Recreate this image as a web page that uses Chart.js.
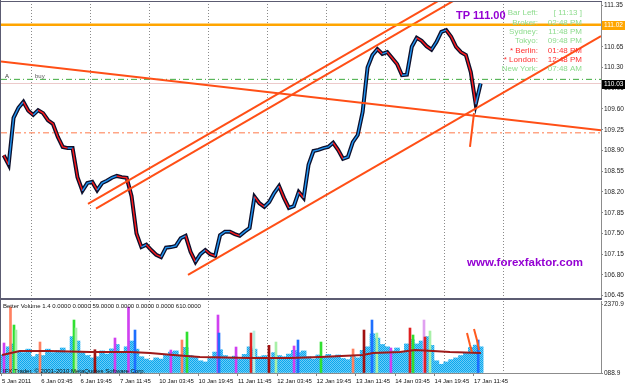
<!DOCTYPE html>
<html><head><meta charset="utf-8">
<script src="https://cdn.jsdelivr.net/npm/chart.js@4.4.1/dist/chart.umd.min.js"></script>
<style>
html,body{margin:0;padding:0;background:#fff;}
#wrap{position:relative;width:625px;height:387px;overflow:hidden;background:#fff;}
canvas{position:absolute;left:0;}
#main{top:0;}
#vol{top:300px;}
</style></head><body>
<div id="wrap"><canvas id="main" width="625" height="300"></canvas><canvas id="vol" width="625" height="87"></canvas></div>
<script>
const FONT = "'Liberation Sans', Arial, sans-serif";

// ---- time axis (trading hours since 5 Jan 2011 00:00) ----
const xMin = 11.39, xMax = 255.46;
const dayLines = [24, 48, 72, 96, 120, 144, 168, 192, 216];
const timeLabelHours = [11.75, 27.75, 43.75, 59.75, 75.75, 91.75, 107.75, 123.75, 139.75, 155.75, 171.75, 187.75, 203.75];
const timeLabels = ['5 Jan 2011', '6 Jan 03:45', '6 Jan 19:45', '7 Jan 11:45', '10 Jan 03:45', '10 Jan 19:45', '11 Jan 11:45', '12 Jan 03:45', '12 Jan 19:45', '13 Jan 11:45', '14 Jan 03:45', '14 Jan 19:45', '17 Jan 11:45'];

// ---- price panel ----
const yMin = 106.394, yMax = 111.422;
const priceTicks = [106.45, 106.80, 107.15, 107.50, 107.85, 108.20, 108.55, 108.90, 109.25, 109.60, 109.95, 110.30, 110.65, 111.00, 111.35];
const startHour = 12.5, stepHours = 2;
const closePrices = [
 108.82, 108.66, 109.45, 109.62, 109.72, 109.57, 109.50, 109.58, 109.53, 109.41,
 109.35, 109.13, 108.96, 108.94, 108.94, 108.45, 108.22, 108.35, 108.37, 108.23,
 108.35, 108.39, 108.44, 108.47, 108.45, 108.44, 108.13, 107.50, 107.27, 107.31,
 107.22, 107.14, 107.10, 107.26, 107.27, 107.29, 107.42, 107.46, 107.19, 107.02,
 107.15, 107.22, 107.15, 107.12, 107.47, 107.53, 107.53, 107.49, 107.46, 107.53,
 107.59, 108.12, 108.01, 107.95, 108.03, 108.18, 108.30, 108.10, 107.93, 107.96,
 108.20, 108.10, 108.66, 108.89, 108.91, 108.94, 108.96, 109.03, 108.91, 108.76,
 108.79, 109.04, 109.16, 109.55, 110.30, 110.51, 110.61, 110.53, 110.56, 110.46,
 110.36, 110.17, 110.18, 110.65, 110.80, 110.75, 110.66, 110.60, 110.73, 110.90,
 110.93, 110.82, 110.65, 110.56, 110.51, 110.22, 109.68, 110.03];
const priceHours = closePrices.map((_, i) => startHour + i * stepHours);

const tpLevel = 111.02, tpTarget = 111.00, buyLevel = 110.10, bidLevel = 110.03, slLevel = 109.20;
const descHours = [11.4, 255.5], descPrices = [110.40, 109.24];
const chanAHours = [46.78, 189.97], chanAPrices = [108.00, 111.44];
const chanBHours = [50.03, 196.07], chanBPrices = [107.92, 111.44];
const chanCHours = [87.46, 255.46], chanCPrices = [106.80, 110.83];
const stubHours = [202.17, 203.80], stubPrices = [108.96, 109.53];

const infoLabels = ['Bar Left:', 'Broker:', 'Sydney:', 'Tokyo:', '* Berlin:', '* London:', 'New York:'];
const infoValues = ['[ 11:13 ]', '02:48 PM', '11:48 PM', '09:48 PM', '01:48 PM', '12:48 PM', '07:48 AM'];
const infoRed = [false, false, false, false, true, true, false];

// ---- volume panel ----
const volMax = 2475;
const volTickValues = [0, 2370.9];
const volTickLabels = ['088.9', '2370.9'];
const volumes = [
 620, 900, 1000, 760, 700, 820, 560, 640, 600, 820,
 700, 780, 860, 700, 1250, 1100, 700, 600, 520, 560,
 760, 650, 830, 980, 720, 900, 1100, 820, 560, 480,
 430, 520, 480, 640, 720, 760, 620, 880, 600, 540,
 420, 380, 500, 720, 800, 600, 520, 580, 480, 640,
 900, 820, 560, 600, 520, 700, 600, 560, 650, 780,
 700, 760, 560, 480, 620, 540, 640, 560, 620, 500,
 460, 600, 520, 780, 900, 1350, 1200, 980, 900, 760,
 860, 700, 1000, 1150, 1000, 1100, 1250, 950, 420, 300,
 380, 460, 520, 600, 700, 880, 960, 900];
const spikeHours = [12.61, 15.25, 16.68, 17.49, 27.25, 41.08, 41.9, 49.6, 57.76, 63.25, 65.9, 80.5, 85.0, 87.05, 99.66, 100.07, 107.0, 113.1, 114.3, 120.4, 123.25, 130.6, 132.2, 141.56, 154.6, 159.05, 162.3, 164.3, 170.0, 177.76, 179.0, 183.46, 183.87, 185.9, 205.5];
const spikeVols  = [1031, 2268, 1649, 1477, 1065, 1821, 1546, 800, 1203, 2268, 1477, 790, 1134, 1409, 1993, 1374, 893, 1374, 1443, 950, 1065, 928, 1134, 1065, 825, 1477, 1821, 1374, 859, 1546, 1306, 1821, 1237, 1443, 1134];
const spikeKinds = ['mag', 'salmon', 'green', 'lgreen', 'salmon', 'green', 'lgreen', 'dred', 'mag', 'mag', 'blue', 'mag', 'salmon', 'green', 'mag', 'blue', 'mag', 'red', 'pale', 'dred', 'lgreen', 'mag', 'blue', 'green', 'salmon', 'dred', 'blue', 'lgreen', 'mag', 'red', 'green', 'plum', 'red', 'lgreen', 'blue'];
const volMaHours = [11.8, 19.1, 31.3, 47.6, 63.9, 72.0, 81.4, 92.3, 112.7, 129.0, 141.2, 158.6, 162.7, 173.7, 179.8, 187.1, 194.0, 206.6];
const volMaVals  = [618, 756, 756, 722, 722, 687, 618, 550, 515, 515, 550, 618, 687, 722, 790, 756, 722, 687];
const markAHours = [200.95, 202.17, 202.98], markAVals = [1374, 962, 722];
const markBHours = [203.8, 205.0, 205.83], markBVals = [1512, 1134, 790];

// ---- helpers ----
const pts = (xs, ys) => xs.map((x, i) => ({x: x, y: ys[i]}));
const hline = (lvl) => [{x: xMin, y: lvl}, {x: xMax, y: lvl}];
const kindColor = {mag: '#D040F0', salmon: '#FF8060', green: '#30E030', lgreen: '#A8F0A8', red: '#E02020', blue: '#1E6FFF', dred: '#A01010', pale: '#B8F0E0', plum: '#E0A0F0'};
const ORANGE_RED = '#FF4F16';
const trend = (xs, ys) => ({data: pts(xs, ys), borderColor: ORANGE_RED, borderWidth: 2, order: 5});

const mainDecor = {
  id: 'mainDecor',
  afterDraw(chart) {
    const ctx = chart.ctx, ys = chart.scales.y;
    ctx.save();
    ctx.fillStyle = '#5c5c72';
    ctx.fillRect(0, 0, 1, 300);
    ctx.fillRect(0, 1, 602, 1);
    ctx.fillRect(0, 298, 602, 2);
    const box = (val, fill, txtColor) => {
      const y = Math.round(ys.getPixelForValue(val));
      ctx.fillStyle = fill; ctx.fillRect(602, y - 4, 23, 9);
      ctx.fillStyle = txtColor; ctx.font = '6.5px ' + FONT;
      ctx.textBaseline = 'middle'; ctx.textAlign = 'left';
      ctx.fillText(val.toFixed(2), 604, y + 0.5);
    };
    box(tpLevel, '#FFA500', '#ffffff');
    box(bidLevel, '#000000', '#ffffff');
    ctx.textBaseline = 'middle';
    ctx.textAlign = 'left';
    ctx.fillStyle = '#9400D3';
    ctx.font = 'bold 11px ' + FONT;
    ctx.fillText('TP ' + tpTarget.toFixed(2), 456, 16);
    ctx.font = 'bold 11.5px ' + FONT;
    ctx.fillText('www.forexfaktor.com', 467, 263);
    ctx.font = '8px ' + FONT;
    infoLabels.forEach((lab, i) => {
      const y = 13 + i * 9.33;
      ctx.fillStyle = infoRed[i] ? '#FF3030' : '#8EDC8E';
      ctx.textAlign = 'right';
      ctx.fillText(lab, 538, y);
      ctx.fillText(infoValues[i], 582, y);
    });
    ctx.textAlign = 'left';
    ctx.font = '6px ' + FONT;
    ctx.fillStyle = '#333';
    ctx.fillText('A', 5, 76);
    ctx.fillStyle = '#555';
    ctx.fillText('buy', 35, 76);
    ctx.restore();
  }
};

new Chart(document.getElementById('main'), {
  type: 'line',
  data: {datasets: [
    {data: hline(slLevel), borderColor: '#FFA585', borderWidth: 1.5, borderDash: [6, 3, 2, 3], order: 20},
    {data: hline(bidLevel), borderColor: '#EDCACA', borderWidth: 1, order: 19},
    {data: hline(buyLevel), borderColor: '#3DAA3D', borderWidth: 1, borderDash: [6, 3, 1, 3], order: 18},
    {data: pts(priceHours, closePrices), borderColor: '#0C0F2C', borderWidth: 4, order: 10},
    {data: pts(priceHours, closePrices), borderWidth: 1.4, order: 9,
      segment: {borderColor: c => c.p1.parsed.y >= c.p0.parsed.y ? '#2196F3' : '#FF1A1A'}},
    trend(descHours, descPrices),
    trend(chanAHours, chanAPrices),
    trend(chanBHours, chanBPrices),
    trend(chanCHours, chanCPrices),
    trend(stubHours, stubPrices),
    {data: hline(tpLevel), borderColor: '#FFA500', borderWidth: 2.5, order: 4}
  ]},
  options: {
    responsive: false, animation: false, devicePixelRatio: 1, events: [],
    layout: {padding: {left: 1, top: 1, right: 0, bottom: 1}, autoPadding: false},
    plugins: {legend: {display: false}, tooltip: {enabled: false}},
    elements: {point: {radius: 0}, line: {tension: 0, fill: false}},
    scales: {
      x: {type: 'linear', min: xMin, max: xMax, position: 'bottom', offset: false,
        afterBuildTicks: s => { s.ticks = dayLines.map(v => ({value: v})); },
        ticks: {display: false},
        grid: {color: '#8a8a8a', lineWidth: 1, drawTicks: false, offset: false},
        border: {display: false, dash: [1, 2]},
        afterFit: s => { s.height = 0; s.paddingLeft = 0; s.paddingRight = 0; }},
      y: {type: 'linear', position: 'right', min: yMin, max: yMax,
        afterBuildTicks: s => { s.ticks = priceTicks.map(v => ({value: v})); },
        ticks: {font: {family: FONT, size: 6.5}, color: '#222', padding: 1, autoSkip: false, callback: v => Number(v).toFixed(2)},
        grid: {drawOnChartArea: false, tickLength: 2, tickColor: '#888'},
        border: {display: true, color: '#8c8c8c'},
        afterFit: s => { s.width = 24; s.paddingTop = 0; s.paddingBottom = 0; }}
    }
  },
  plugins: [mainDecor]
});

// volume panel
const volCanvas = document.getElementById('vol');
const pc = document.createElement('canvas'); pc.width = 2; pc.height = 2;
const pctx = pc.getContext('2d');
pctx.fillStyle = '#0AA8F0'; pctx.fillRect(0, 0, 2, 2);
pctx.fillStyle = '#6CCBF5'; pctx.fillRect(1, 0, 1, 1); pctx.fillRect(0, 1, 1, 1);
const volPattern = volCanvas.getContext('2d').createPattern(pc, 'repeat');

const volDecor = {
  id: 'volDecor',
  afterDraw(chart) {
    const ctx = chart.ctx;
    ctx.save();
    ctx.fillStyle = '#5c5c72';
    ctx.fillRect(0, 0, 1, 74);
    ctx.font = '6px ' + FONT;
    ctx.textAlign = 'left'; ctx.textBaseline = 'middle';
    ctx.fillStyle = '#111';
    ctx.fillText('Better Volume 1.4 0.0000 0.0000 59.0000 0.0000 0.0000 0.0000 610.0000', 3, 6);
    ctx.fillText('IFX Trader, \u00A9 2001-2010 MetaQuotes Software Corp.', 3, 71);
    ctx.restore();
  }
};

new Chart(volCanvas, {
  type: 'bar',
  data: {datasets: [
    {type: 'line', data: pts(markAHours, markAVals), borderColor: '#FF5A1E', borderWidth: 2, order: 1},
    {type: 'line', data: pts(markBHours, markBVals), borderColor: '#FF5A1E', borderWidth: 2, order: 1},
    {type: 'line', data: pts(volMaHours, volMaVals), borderColor: '#9E1A1A', borderWidth: 2, order: 2},
    {type: 'bar', data: pts(spikeHours, spikeVols), backgroundColor: spikeKinds.map(k => kindColor[k]), barThickness: 2, grouped: false, borderWidth: 0, order: 3},
    {type: 'bar', data: pts(priceHours, volumes), backgroundColor: volPattern, barThickness: 5, grouped: false, borderWidth: 0, order: 4}
  ]},
  options: {
    responsive: false, animation: false, devicePixelRatio: 1, events: [],
    layout: {padding: {left: 1, top: 1, right: 0, bottom: 0}, autoPadding: false},
    plugins: {legend: {display: false}, tooltip: {enabled: false}},
    elements: {point: {radius: 0}, line: {tension: 0, fill: false}},
    scales: {
      x: {type: 'linear', min: xMin, max: xMax, position: 'bottom', offset: false,
        afterBuildTicks: s => { s.ticks = timeLabelHours.map(v => ({value: v})); },
        ticks: {autoSkip: false, maxRotation: 0, minRotation: 0, align: 'start', padding: 2,
          font: {family: FONT, size: 6}, color: '#111',
          callback: v => timeLabels[timeLabelHours.indexOf(v)]},
        grid: {drawOnChartArea: false, drawTicks: true, tickLength: 3, tickColor: '#888', offset: false},
        border: {display: true, color: '#8c8c8c'},
        afterFit: s => { s.height = 14; s.paddingLeft = 0; s.paddingRight = 0; }},
      xg: {type: 'linear', min: xMin, max: xMax, position: 'bottom', offset: false,
        afterBuildTicks: s => { s.ticks = dayLines.map(v => ({value: v})); },
        ticks: {display: false},
        grid: {color: '#8a8a8a', drawTicks: false, offset: false},
        border: {display: false, dash: [1, 2]},
        afterFit: s => { s.height = 0; s.paddingLeft = 0; s.paddingRight = 0; }},
      y: {type: 'linear', position: 'right', min: 0, max: volMax,
        afterBuildTicks: s => { s.ticks = volTickValues.map(v => ({value: v})); },
        ticks: {font: {family: FONT, size: 6.5}, color: '#222', padding: 1, autoSkip: false,
          callback: v => volTickLabels[volTickValues.indexOf(v)]},
        grid: {drawOnChartArea: false, tickLength: 2, tickColor: '#888'},
        border: {display: true, color: '#8c8c8c'},
        afterFit: s => { s.width = 24; s.paddingTop = 0; s.paddingBottom = 0; }}
    }
  },
  plugins: [volDecor]
});
</script>
</body></html>
